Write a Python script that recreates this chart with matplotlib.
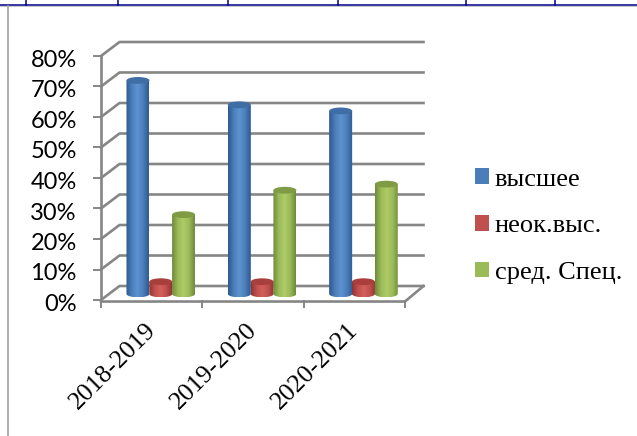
import numpy as np
import matplotlib
matplotlib.use("Agg")
import matplotlib.pyplot as plt
from matplotlib.colors import LinearSegmentedColormap
from matplotlib.patches import Patch, PathPatch, Ellipse
from matplotlib.path import Path
from matplotlib.ticker import PercentFormatter
from matplotlib.transforms import ScaledTranslation

years = ["2018-2019", "2019-2020", "2020-2021"]
vysshee = [70, 62, 60]
neok = [4, 4, 4]
sred = [26, 34, 36]
names = ["высшее", "неок.выс.", "сред. Спец."]
yticks = [0, 10, 20, 30, 40, 50, 60, 70, 80]

W, H = 637, 436
grid = "#868686"

fig = plt.figure(figsize=(W / 100, H / 100), dpi=100)

# page furniture, in pixels
bg = fig.add_axes([0, 0, 1, 1])
bg.set_xlim(0, W)
bg.set_ylim(H, 0)
bg.axis("off")
bg.plot([0, W], [5, 5], color="#00008b", lw=1.1)
bg.plot([0, W], [6.5, 6.5], color="#c8c8c8", lw=0.7)
for x in [26, 118, 228, 338, 466, 555]:
    bg.plot([x, x], [0, 5], color="#00008b", lw=1.1)
bg.plot([7.5, 7.5], [6, H], color="#a0a0a0", lw=1.2)

# plot box: front face of the fake 3d chart
ax = fig.add_axes([101 / W, 1 - 300 / H, 304 / W, 244 / H])
ax.patch.set_alpha(0)
ax.set_xlim(0, 3)
ax.set_ylim(0, 80)
for s in ax.spines.values():
    s.set_visible(False)

# depth of the box, in data units
ux = 3 / 304
uy = 80 / 244
dx = 18.5 * ux
dy = 14 * uy

for v in yticks:
    ax.plot([0, dx, 3 + dx], [v, v + dy, v + dy], color=grid, lw=1.9, clip_on=False, zorder=1)
ax.plot([0, 0], [0, 80], color=grid, lw=1.9, clip_on=False, zorder=1)
ax.plot([0, 3, 3 + dx], [-0.5, -0.5, dy], color=grid, lw=1.9, clip_on=False, zorder=1)


def cylinder(xc, v, light, mid, dark, top):
    hw = 11.5 * ux
    ry = 3.4 * uy
    y0 = dy / 2 - 0.3
    y1 = y0 + v
    t = np.linspace(np.pi, 2 * np.pi, 30)
    px = list(xc + hw * np.cos(t)) + [xc + hw, xc - hw, xc - hw]
    py = list(y0 + ry * np.sin(t)) + [y1, y1, y0]
    body = PathPatch(Path(np.column_stack([px, py])), fc="none", ec="none")
    ax.add_patch(body)
    cmap = LinearSegmentedColormap.from_list("c", [dark, mid, light, mid, dark])
    im = ax.imshow(np.linspace(0, 1, 64).reshape(1, -1), cmap=cmap, aspect="auto",
                   extent=[xc - hw, xc + hw, y0 - ry, y1], zorder=3, clip_on=True)
    im.set_clip_path(body)
    ax.add_patch(Ellipse((xc, y1), 2 * hw, 2 * ry, fc=top, ec="none", zorder=4))


styles = [
    ("#5f93d0", "#4a7ebb", "#2f5a8f", "#3f6da6"),
    ("#d2605c", "#c0504d", "#8f3532", "#a83f3c"),
    ("#aecb66", "#9bbb59", "#6f8a3a", "#7f9c45"),
]
w = 22.8 * ux
for i in range(3):
    xc = i + 0.5 + 0.09
    cylinder(xc - w, vysshee[i], *styles[0])
    cylinder(xc, neok[i], *styles[1])
    cylinder(xc + w, sred[i], *styles[2])

ax.set_xlim(0, 3)
ax.set_ylim(0, 80)

ax.set_yticks(yticks)
ax.yaxis.set_major_formatter(PercentFormatter(decimals=0))
ax.tick_params(axis="y", length=5.5, width=1.4, color=grid, pad=12, labelsize=17)
down = ScaledTranslation(0, -2.5 / 100, fig.dpi_scale_trans)
for lab in ax.get_yticklabels():
    lab.set_family("Lato")
    lab.set_transform(lab.get_transform() + down)

ax.set_xticks([0, 1, 2, 3])
ax.set_xticklabels([])
ax.tick_params(axis="x", length=6, width=1.4, color=grid)
ax.set_xticks([0.43, 1.43, 2.43], minor=True)
ax.set_xticklabels(years, minor=True, rotation=45, ha="right", rotation_mode="anchor",
                   family="Liberation Serif", fontsize=18.5)
ax.tick_params(axis="x", which="minor", length=0, pad=14)

handles = [Patch(fc=styles[k][1], ec="none") for k in range(3)]
fig.legend(handles, names, loc="upper left", bbox_to_anchor=(475 / W, 1 - 168.5 / H),
           frameon=False, prop={"family": "Liberation Serif", "size": 19},
           handlelength=0.53, handleheight=0.53, handletextpad=0.22,
           labelspacing=0.93, borderpad=0, borderaxespad=0)

fig.savefig("out.png", dpi=100)
